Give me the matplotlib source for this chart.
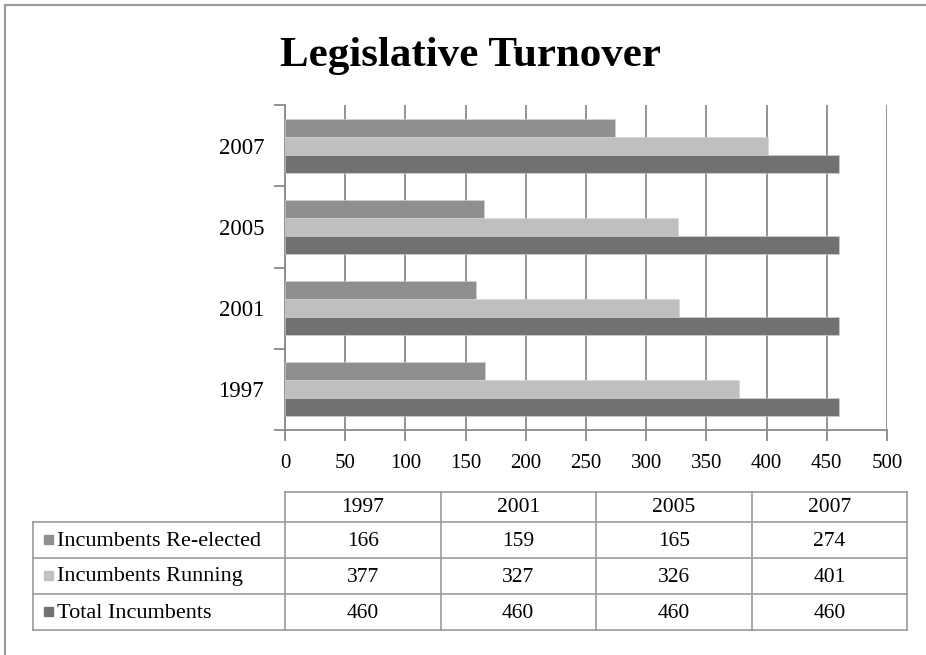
import matplotlib.pyplot as plt
from matplotlib.patches import Rectangle
from matplotlib.lines import Line2D

years = ["1997", "2001", "2005", "2007"]
series_names = ["Incumbents Re-elected", "Incumbents Running", "Total Incumbents"]
re_elected = [166, 159, 165, 274]
running = [377, 327, 326, 401]
total = [460, 460, 460, 460]

colors = ["#8f8f8f", "#bfbfbf", "#717171"]
grid_col = "#8a8a8a"
serif = ["Liberation Serif", "DejaVu Serif"]

W, H = 926, 655
fig = plt.figure(figsize=(W / 100, H / 100), dpi=100)

# overlay in pixel coordinates for frame and table
ov = fig.add_axes([0, 0, 1, 1])
ov.set_xlim(0, W)
ov.set_ylim(H, 0)
ov.axis("off")
ov.add_line(Line2D([5, W], [5, 5], color="#9a9a9a", lw=1.5))
ov.add_line(Line2D([5, 5], [5, H], color="#9a9a9a", lw=1.5))

ax = fig.add_axes([285 / W, 1 - 430 / H, 602 / W, 325 / H])
h = 0.222
ypos = range(len(years))
series = [re_elected, running, total]
offsets = [h, 0, -h]
for vals, off, c in zip(series, offsets, colors):
    ax.barh([y + off for y in ypos], vals, height=h, color=c,
            edgecolor="#d6d6d6", linewidth=0.4, zorder=3)

ax.set_xlim(0, 500)
ax.set_ylim(-0.5, len(years) - 0.5)
ax.set_xticks(range(0, 501, 50))
ax.set_yticks([i - 0.5 for i in range(len(years) + 1)])
ax.set_yticklabels([])
ax.set_yticks(list(ypos), minor=True)
ax.set_yticklabels(years, minor=True, fontfamily=serif, fontsize=16.5)
ax.tick_params(axis="y", which="major", length=8, width=1.3, color=grid_col)
ax.tick_params(axis="y", which="minor", length=0, pad=15)
ax.tick_params(axis="x", length=8, width=1.3, color=grid_col, pad=9)
for lbl in ax.get_xticklabels():
    lbl.set_fontfamily(serif)
    lbl.set_fontsize(15)
ax.grid(axis="x", color=grid_col, lw=1.3, zorder=0)
for s in ["top", "right"]:
    ax.spines[s].set_visible(False)
for s in ["left", "bottom"]:
    ax.spines[s].set_color(grid_col)
    ax.spines[s].set_linewidth(1.3)

fig.text(470 / W, 1 - 56 / H, "Legislative Turnover", ha="center", va="center",
         fontfamily=serif, fontweight="bold", fontsize=31)

# data table under the chart
col_x = [285 + i * 155.5 for i in range(len(years) + 1)]
row_y = [492, 522, 558, 594, 630]
left_x = 33
line_kw = dict(color="#9a9a9a", lw=1.2)
# header row
ov.add_line(Line2D([col_x[0], col_x[-1]], [row_y[0], row_y[0]], **line_kw))
for y in row_y[1:]:
    ov.add_line(Line2D([left_x, col_x[-1]], [y, y], **line_kw))
for x in col_x:
    ov.add_line(Line2D([x, x], [row_y[0], row_y[-1]], **line_kw))
ov.add_line(Line2D([left_x, left_x], [row_y[1], row_y[-1]], **line_kw))

for j, yr in enumerate(years):
    cx = (col_x[j] + col_x[j + 1]) / 2
    ov.text(cx, (row_y[0] + row_y[1]) / 2 + 1, yr, ha="center", va="center",
            fontfamily=serif, fontsize=15.5)
for i, (name, vals, c) in enumerate(zip(series_names, series, colors)):
    cy = (row_y[i + 1] + row_y[i + 2]) / 2 + 1
    ov.add_patch(Rectangle((44, cy - 6), 9, 9, color=c))
    ov.text(57, cy, name, ha="left", va="center", fontfamily=serif, fontsize=16)
    for j, v in enumerate(vals):
        cx = (col_x[j] + col_x[j + 1]) / 2
        ov.text(cx, cy, str(v), ha="center", va="center", fontfamily=serif, fontsize=15.5)

fig.savefig("out.png", dpi=100)
